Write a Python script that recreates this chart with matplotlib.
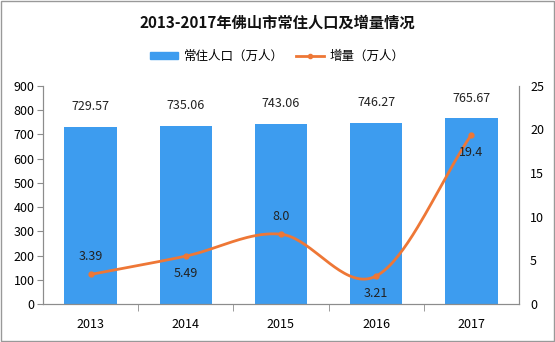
import numpy as np
import matplotlib.pyplot as plt
from matplotlib.lines import Line2D
from matplotlib.patches import Patch

plt.rcParams['font.family'] = ['Noto Sans CJK SC', 'DejaVu Sans']

years = ['2013', '2014', '2015', '2016', '2017']
population = [729.57, 735.06, 743.06, 746.27, 765.67]
increase = [3.39, 5.49, 8.0, 3.21, 19.4]
increase_labels = ['3.39', '5.49', '8.0', '3.21', '19.4']
inc_label_above = [True, False, True, False, False]

BLUE = '#3d9cef'
ORANGE = '#ee7736'
AXIS = '#8c8c8c'


def catmull_rom(xs, ys, n=40):
    # smooth curve through the points, only for drawing
    px = np.concatenate([[2 * xs[0] - xs[1]], xs, [2 * xs[-1] - xs[-2]]])
    py = np.concatenate([[2 * ys[0] - ys[1]], ys, [2 * ys[-1] - ys[-2]]])
    outx, outy = [], []
    for i in range(1, len(px) - 2):
        t = np.linspace(0, 1, n)
        for arr, out in ((px, outx), (py, outy)):
            p0, p1, p2, p3 = arr[i - 1], arr[i], arr[i + 1], arr[i + 2]
            out.extend(0.5 * (2 * p1 + (-p0 + p2) * t
                              + (2 * p0 - 5 * p1 + 4 * p2 - p3) * t ** 2
                              + (-p0 + 3 * p1 - 3 * p2 + p3) * t ** 3))
    return np.array(outx), np.array(outy)


fig = plt.figure(figsize=(5.55, 3.42), dpi=100)
ax = fig.add_axes([0.0775, 0.111, 0.8575, 0.638])
ax2 = ax.twinx()

x = np.arange(len(years))
ax.bar(x, population, width=0.55, color=BLUE, zorder=2)
for xi, v in zip(x, population):
    ax.annotate(f'{v:.2f}', (xi, v), xytext=(0, 10), textcoords='offset points',
                ha='center', va='bottom', fontsize=9, color='#222222')

ax.set_xlim(-0.5, len(years) - 0.5)
ax.set_ylim(0, 900)
ax.set_yticks(range(0, 901, 100))
ax.set_xticks(x)
ax.set_xticklabels(years)
ax.set_xticks(np.arange(0.5, len(years) - 1, 1), minor=True)
ax.tick_params(axis='x', which='major', length=0, pad=10, labelsize=9)
ax.tick_params(axis='x', which='minor', length=5, color=AXIS)
ax.tick_params(axis='y', length=4, color=AXIS, labelsize=9, pad=2)

sx, sy = catmull_rom(x.astype(float), np.array(increase))
ax2.plot(sx, sy, color=ORANGE, lw=2, zorder=3)
ax2.plot(x, increase, 'o', color=ORANGE, ms=3.5, zorder=4)
for xi, v, lab, above in zip(x, increase, increase_labels, inc_label_above):
    off = 8 if above else -8
    ax2.annotate(lab, (xi, v), xytext=(0, off), textcoords='offset points',
                 ha='center', va='bottom' if above else 'top', fontsize=9, color='#222222')
ax2.set_ylim(0, 25)
ax2.set_yticks(range(0, 26, 5))
ax2.tick_params(axis='y', length=0, labelsize=9, pad=8)

for a in (ax, ax2):
    a.spines['top'].set_visible(False)
    for s in ('left', 'right', 'bottom'):
        a.spines[s].set_color(AXIS)
ax.set_zorder(ax2.get_zorder() - 1)
ax.patch.set_visible(True)
ax2.patch.set_visible(False)

fig.text(0.5, 0.935, '2013-2017年佛山市常住人口及增量情况', ha='center', va='center',
         fontsize=11, fontweight='bold', color='#111111')

handles = [Patch(color=BLUE),
           Line2D([0], [0], color=ORANGE, lw=2, marker='o', ms=3)]
fig.legend(handles, ['常住人口（万人）', '增量（万人）'], loc='center',
           bbox_to_anchor=(0.5, 0.835), ncol=2, frameon=False, fontsize=9,
           handlelength=2.2, handleheight=0.6, columnspacing=1.0, handletextpad=0.5)

fig.patches.append(plt.Rectangle((0.001, 0.002), 0.997, 0.996, transform=fig.transFigure,
                                 fill=False, edgecolor='#999999', lw=1))

fig.savefig('out.png', dpi=100)
